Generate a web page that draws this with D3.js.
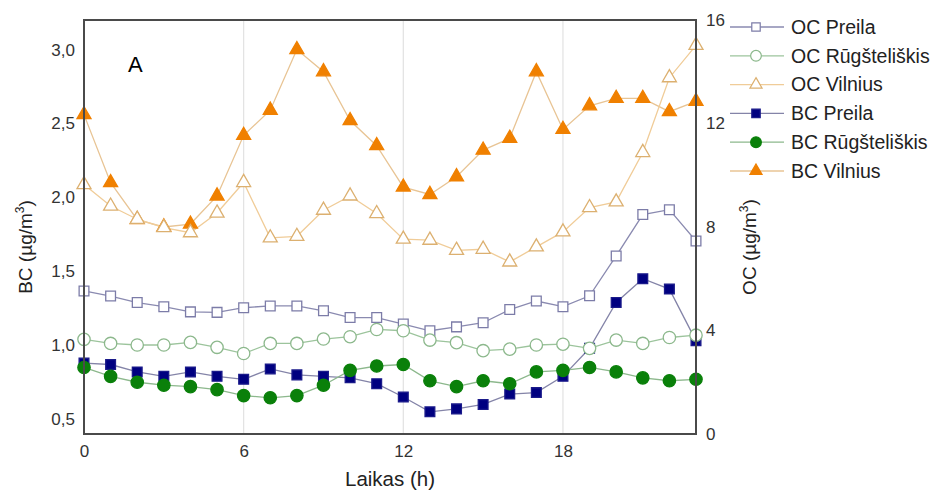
<!DOCTYPE html>
<html>
<head>
<meta charset="utf-8">
<script src="https://cdn.jsdelivr.net/npm/d3@7"></script>
<style>
  body { margin: 0; background: #fff; }
  text { font-family: "Liberation Sans", Arial, sans-serif; }
</style>
</head>
<body>
<div id="chart"></div>
<script>
// hours of the day
var hours = d3.range(0, 24);

// BC (left axis, ug/m3)
var bcPreila = [0.88, 0.87, 0.82, 0.79, 0.82, 0.79, 0.77, 0.84, 0.80, 0.79, 0.78, 0.74,
                0.65, 0.55, 0.57, 0.60, 0.67, 0.68, 0.79, 0.98, 1.29, 1.45, 1.38, 1.03];
var bcRugsteliskis = [0.85, 0.79, 0.75, 0.73, 0.72, 0.70, 0.66, 0.645, 0.66, 0.73, 0.83, 0.86,
                      0.87, 0.76, 0.72, 0.76, 0.74, 0.82, 0.83, 0.85, 0.82, 0.78, 0.76, 0.77];
var bcVilnius = [2.56, 2.10, 1.85, 1.80, 1.82, 2.01, 2.42, 2.59, 3.00, 2.85, 2.52, 2.35,
                 2.07, 2.02, 2.14, 2.32, 2.40, 2.85, 2.46, 2.62, 2.67, 2.67, 2.58, 2.65];

// OC (right axis, ug/m3)
var ocPreila = [5.53, 5.33, 5.08, 4.92, 4.72, 4.70, 4.88, 4.95, 4.95, 4.76, 4.50, 4.50,
                4.25, 3.99, 4.14, 4.30, 4.81, 5.14, 4.92, 5.34, 6.88, 8.48, 8.67, 7.46];
var ocRugsteliskis = [3.66, 3.50, 3.44, 3.44, 3.54, 3.35, 3.11, 3.50, 3.50, 3.67, 3.76, 4.04,
                      3.99, 3.63, 3.53, 3.22, 3.28, 3.44, 3.47, 3.31, 3.63, 3.50, 3.73, 3.82];
var ocVilnius = [9.64, 8.81, 8.30, 7.98, 7.78, 8.54, 9.72, 7.58, 7.64, 8.65, 9.20, 8.52,
                 7.53, 7.49, 7.10, 7.14, 6.65, 7.23, 7.81, 8.75, 8.97, 10.88, 13.77, 15.02];

var xTicks = [0, 6, 12, 18];
var leftTicks = [0.5, 1.0, 1.5, 2.0, 2.5, 3.0];
var rightTicks = [0, 4, 8, 12, 16];

// series, in legend order
var series = [
  {name: "OC Preila", values: ocPreila, axis: "right", symbol: d3.symbolSquare, size: 95,
   line: "#8a8ab0", stroke: "#7c7ca8", fill: "#fff"},
  {name: "OC Rūgšteliškis", values: ocRugsteliskis, axis: "right", symbol: d3.symbolCircle, size: 120,
   line: "#9cc49c", stroke: "#8cb88c", fill: "#fff"},
  {name: "OC Vilnius", values: ocVilnius, axis: "right", symbol: d3.symbolTriangle, size: 85,
   line: "#f0cc98", stroke: "#dcb070", fill: "#fff"},
  {name: "BC Preila", values: bcPreila, axis: "left", symbol: d3.symbolSquare, size: 95,
   line: "#8484a8", stroke: "#1a1a8a", fill: "#000080"},
  {name: "BC Rūgšteliškis", values: bcRugsteliskis, axis: "left", symbol: d3.symbolCircle, size: 120,
   line: "#8cb88c", stroke: "#0a800a", fill: "#0a800a"},
  {name: "BC Vilnius", values: bcVilnius, axis: "left", symbol: d3.symbolTriangle, size: 85,
   line: "#e8c494", stroke: "#f08000", fill: "#f08000"}
];

var W = 937, H = 500;
var margin = {top: 20, right: 241, bottom: 66, left: 84},
    width = W - margin.left - margin.right,
    height = H - margin.top - margin.bottom;

var svg = d3.select("#chart")
  .append("svg")
  .attr("width", W)
  .attr("height", H);

var g = svg.append("g")
  .attr("transform", "translate(" + margin.left + "," + margin.top + ")");

var x = d3.scaleLinear().domain([0, 23]).range([0, width]);
var yL = d3.scaleLinear().domain([0.4, 3.2]).range([height, 0]);
var yR = d3.scaleLinear().domain([0, 16]).range([height, 0]);

// vertical grid lines
g.selectAll(".vgrid")
  .data(xTicks.filter(d => d > 0))
  .enter().append("line")
    .attr("x1", d => x(d)).attr("x2", d => x(d))
    .attr("y1", 0).attr("y2", height)
    .attr("stroke", "#e2e2e2")
    .attr("stroke-width", 1.2);

// axes (no tick marks, just labels)
var fmt = d3.format(".1f");
function tickStyle(a) {
  a.select(".domain").remove();
  a.selectAll("text").attr("font-size", 17).attr("fill", "#333")
    .style("font-family", "Liberation Sans, Arial, sans-serif");
}

g.append("g")
  .attr("transform", `translate(0, ${height})`)
  .call(d3.axisBottom(x).tickValues(xTicks).tickSize(0).tickPadding(11))
  .call(tickStyle);

g.append("g")
  .call(d3.axisLeft(yL).tickValues(leftTicks).tickSize(0).tickPadding(9)
    .tickFormat(d => fmt(d).replace(".", ",")))
  .call(tickStyle);

g.append("g")
  .attr("transform", `translate(${width}, 0)`)
  .call(d3.axisRight(yR).tickValues(rightTicks).tickSize(0).tickPadding(10))
  .call(tickStyle);

// lines then markers (BC first, OC on top)
var drawOrder = [3, 4, 5, 0, 1, 2].map(i => series[i]);

drawOrder.forEach(function(s) {
  var yS = s.axis === "left" ? yL : yR;
  g.append("path")
    .datum(s.values)
    .attr("fill", "none")
    .attr("stroke", s.line)
    .attr("stroke-width", 1.3)
    .attr("d", d3.line().x((d, i) => x(hours[i])).y(d => yS(d)));
});

drawOrder.forEach(function(s) {
  var yS = s.axis === "left" ? yL : yR;
  g.append("g").selectAll("path")
    .data(s.values)
    .enter().append("path")
      .attr("transform", (d, i) => `translate(${x(hours[i])}, ${yS(d)})`)
      .attr("d", d3.symbol().type(s.symbol).size(s.size))
      .attr("fill", s.fill)
      .attr("stroke", s.stroke)
      .attr("stroke-width", 1.3);
});

// frame
g.append("rect")
  .attr("width", width)
  .attr("height", height)
  .attr("fill", "none")
  .attr("stroke", "#4a4a4a")
  .attr("stroke-width", 2);

// panel letter
g.append("text")
  .attr("x", 44).attr("y", 52)
  .attr("font-size", 22)
  .attr("fill", "#000")
  .text("A");

// axis titles
svg.append("text")
  .attr("x", margin.left + width / 2)
  .attr("y", 486)
  .attr("text-anchor", "middle")
  .attr("font-size", 20.5)
  .attr("fill", "#222")
  .text("Laikas (h)");

function unitTitle(sel, label) {
  sel.append("tspan").text(label + " (µg/m");
  sel.append("tspan").attr("dy", -8).attr("font-size", 12).text("3");
  sel.append("tspan").attr("dy", 8).text(")");
}

svg.append("text")
  .attr("transform", "translate(32, 247) rotate(-90)")
  .attr("text-anchor", "middle")
  .attr("font-size", 19)
  .attr("fill", "#222")
  .call(unitTitle, "BC");

svg.append("text")
  .attr("transform", "translate(756, 247) rotate(-90)")
  .attr("text-anchor", "middle")
  .attr("font-size", 19)
  .attr("fill", "#222")
  .call(unitTitle, "OC");

// legend
var legend = svg.append("g").attr("transform", "translate(730, 27)");
var rows = legend.selectAll("g")
  .data(series)
  .enter().append("g")
    .attr("transform", (d, i) => `translate(0, ${i * 28.8})`);

rows.append("line")
  .attr("x1", 0).attr("x2", 54)
  .attr("y1", 0).attr("y2", 0)
  .attr("stroke", d => d.line)
  .attr("stroke-width", 1.3);

rows.append("path")
  .attr("transform", "translate(26, 0)")
  .attr("d", d => d3.symbol().type(d.symbol).size(d.size * 0.75)())
  .attr("fill", d => d.fill)
  .attr("stroke", d => d.stroke)
  .attr("stroke-width", 1.2);

rows.append("text")
  .attr("x", 61)
  .attr("dy", "0.35em")
  .attr("font-size", 19.5)
  .attr("fill", "#222")
  .text(d => d.name);
</script>
</body>
</html>
